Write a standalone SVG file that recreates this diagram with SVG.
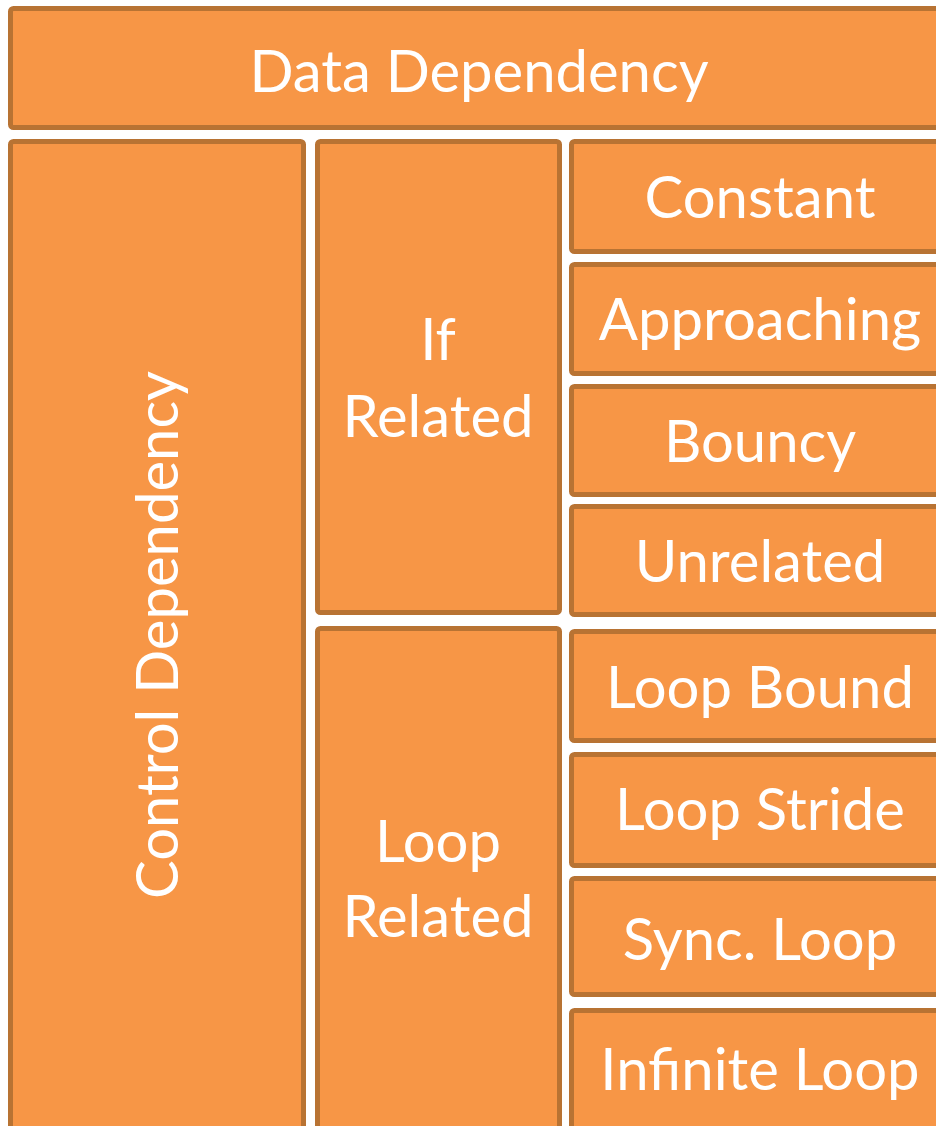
<svg xmlns="http://www.w3.org/2000/svg" width="936" height="1126" viewBox="0 0 936 1126">
<style>
.b{fill:#F79646;stroke:#B87333;stroke-width:5}
.t{fill:#FFFFFF;font-family:Lato,"Open Sans",sans-serif;font-size:58px;text-anchor:middle}
</style>
<rect width="936" height="1126" fill="#FFFFFF"/>
<g id="data-dependency"><rect class="b" x="10.5" y="8.5" width="940" height="119" rx="3"/><text class="t" x="479" y="92">Data Dependency</text></g>
<g id="control-dependency"><rect class="b" x="10.5" y="141.5" width="293" height="1000" rx="3"/><text class="t" transform="translate(178,635) rotate(-90)">Control Dependency</text></g>
<g id="if-related"><rect class="b" x="317.5" y="141.5" width="242" height="471" rx="3"/><text class="t" x="438" y="360">If</text><text class="t" x="438" y="437">Related</text></g>
<g id="loop-related"><rect class="b" x="317.5" y="628.5" width="242" height="520" rx="3"/><text class="t" x="438" y="862">Loop</text><text class="t" x="438" y="937">Related</text></g>
<g id="constant"><rect class="b" x="571.5" y="141.5" width="380" height="110" rx="3"/><text class="t" x="760" y="218">Constant</text></g>
<g id="approaching"><rect class="b" x="571.5" y="264.5" width="380" height="109" rx="3"/><text class="t" x="760" y="340">Approaching</text></g>
<g id="bouncy"><rect class="b" x="571.5" y="386.5" width="380" height="108" rx="3"/><text class="t" x="760" y="462">Bouncy</text></g>
<g id="unrelated"><rect class="b" x="571.5" y="506.5" width="380" height="108" rx="3"/><text class="t" x="760" y="582">Unrelated</text></g>
<g id="loop-bound"><rect class="b" x="571.5" y="631.5" width="380" height="109" rx="3"/><text class="t" x="760" y="708">Loop Bound</text></g>
<g id="loop-stride"><rect class="b" x="571.5" y="754.5" width="380" height="111" rx="3"/><text class="t" x="760" y="830">Loop Stride</text></g>
<g id="sync-loop"><rect class="b" x="571.5" y="878.5" width="380" height="116" rx="3"/><text class="t" x="760" y="960">Sync. Loop</text></g>
<g id="infinite-loop"><rect class="b" x="571.5" y="1010.5" width="380" height="140" rx="3"/><text class="t" x="760" y="1090">Infinite Loop</text></g>
<g id="connectors"/>
</svg>
